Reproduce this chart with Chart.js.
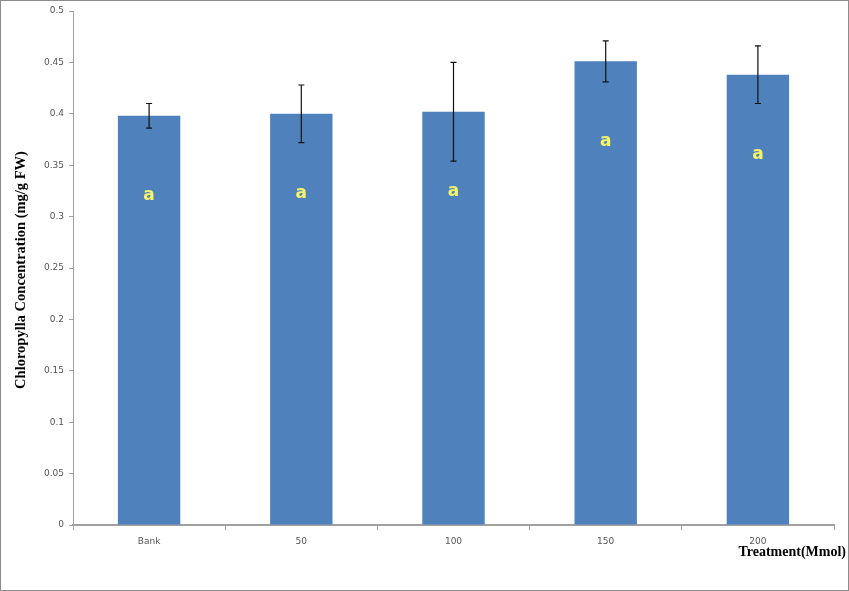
<!DOCTYPE html>
<html>
<head>
<meta charset="utf-8">
<script src="https://cdn.jsdelivr.net/npm/chart.js@4/dist/chart.umd.min.js"></script>
<style>
  body { margin: 0; background: #fff; }
</style>
</head>
<body>
<canvas id="chloroChart" width="849" height="591"></canvas>
<script>
const treatments = ['Bank', '50', '100', '150', '200'];
const chlorophyll = [0.398, 0.400, 0.402, 0.451, 0.438]; // mg/g FW
const errors = [0.012, 0.028, 0.048, 0.020, 0.028];
const letters = ['a', 'a', 'a', 'a', 'a'];
const yTicks = [0, 0.05, 0.1, 0.15, 0.2, 0.25, 0.3, 0.35, 0.4, 0.45, 0.5];

// error bars, letters, axis titles, frame
const extras = {
  id: 'extras',
  beforeDraw(chart) {
    const c = chart.ctx;
    c.save();
    c.fillStyle = '#fff';
    c.fillRect(0, 0, chart.width, chart.height);
    c.strokeStyle = '#8c8c8c';
    c.lineWidth = 1;
    c.strokeRect(0.5, 0.5, chart.width - 1, chart.height - 1);
    c.restore();
  },
  afterDatasetsDraw(chart) {
    const c = chart.ctx;
    const y = chart.scales.y;
    const meta = chart.getDatasetMeta(0);
    c.save();
    // letters
    c.fillStyle = '#f5f56a';
    c.font = 'bold 17px "DejaVu Sans"';
    c.textAlign = 'center';
    c.textBaseline = 'middle';
    meta.data.forEach((bar, i) => {
      c.fillText(letters[i], bar.x, bar.y + 80);
    });
    // error bars
    c.strokeStyle = '#111';
    c.lineWidth = 1.2;
    meta.data.forEach((bar, i) => {
      const top = y.getPixelForValue(chlorophyll[i] + errors[i]);
      const bot = y.getPixelForValue(chlorophyll[i] - errors[i]);
      c.beginPath();
      c.moveTo(bar.x, top); c.lineTo(bar.x, bot);
      c.moveTo(bar.x - 3, top); c.lineTo(bar.x + 3, top);
      c.moveTo(bar.x - 3, bot); c.lineTo(bar.x + 3, bot);
      c.stroke();
    });
    // axis titles
    c.fillStyle = '#000';
    c.font = 'bold 14.5px "Liberation Serif"';
    c.save();
    c.translate(21, 270);
    c.rotate(-Math.PI / 2);
    c.fillText('Chloropylla Concentration (mg/g FW)', 0, 0);
    c.restore();
    c.font = 'bold 14px "Liberation Serif"';
    c.textAlign = 'right';
    c.fillText('Treatment(Mmol)', 846, 552);
    c.restore();
  }
};

new Chart(document.getElementById('chloroChart').getContext('2d'), {
  type: 'bar',
  data: {
    labels: treatments,
    datasets: [{
      data: chlorophyll,
      backgroundColor: '#4f81bd',
      borderWidth: 0,
      categoryPercentage: 1,
      barPercentage: 0.41
    }]
  },
  options: {
    responsive: false,
    animation: false,
    layout: { padding: { left: 0, top: 11, right: 15, bottom: 0 } },
    plugins: { legend: { display: false }, tooltip: { enabled: false } },
    scales: {
      x: {
        grid: { drawOnChartArea: false, offset: true, tickLength: 5, color: '#a0a0a0' },
        border: { color: '#a0a0a0', width: 2 },
        ticks: { color: '#555', font: { family: 'DejaVu Sans', size: 9 }, padding: 6 },
        afterFit: s => { s.height = 66; }
      },
      y: {
        min: 0,
        max: 0.5,
        afterBuildTicks: s => { s.ticks = yTicks.map(v => ({ value: v })); },
        grid: { drawOnChartArea: false, tickLength: 4, color: '#a0a0a0' },
        border: { color: '#a0a0a0', width: 1 },
        ticks: { color: '#555', font: { family: 'DejaVu Sans', size: 9 }, padding: 5,
                 callback: v => String(v) },
        afterFit: s => { s.width = 73; }
      }
    }
  },
  plugins: [extras]
});
</script>
</body>
</html>
